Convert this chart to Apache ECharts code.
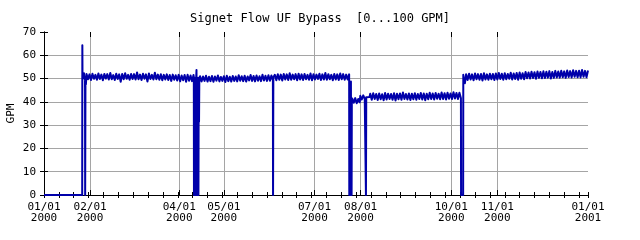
<!DOCTYPE html>
<html>
<head>
<meta charset="utf-8">
<script src="https://cdn.jsdelivr.net/npm/echarts@6/dist/echarts.min.js"></script>
<style>html,body{margin:0;padding:0;background:#fff}#c{width:640px;height:240px}</style>
</head>
<body>
<div id="c"></div>
<script>
// x values are day-of-year 2000 (0 = 01/01/2000, 366 = 01/01/2001)
const labelDays = [0, 31, 91, 121, 182, 213, 274, 305, 366];
const xLabels = ['01/01\n2000', '02/01\n2000', '04/01\n2000', '05/01\n2000', '07/01\n2000', '08/01\n2000', '10/01\n2000', '11/01\n2000', '01/01\n2001'];
const gridDays = [31, 91, 121, 182, 213, 274, 305];

const lead = [[0, 0], [25.7, 0], [25.8, 64.3]];
const bandA1 = {start: 25.9, step: 0.5, values: [51.8, 50.2, 52.3, 49.6]};
const febDrop = [[27.6, 50.5], [27.7, 0], [27.8, 0], [27.9, 50.8], [28.2, 47.6]];
const bandA2 = {start: 28.6, step: 1, values: [
  52.0, 49.7, 51.8, 49.4, 52.1, 49.9, 51.6, 49.5, 52.2, 49.8,
  51.7, 49.3, 52.0, 50.0, 51.9, 49.6, 52.4, 49.7, 51.5, 49.4,
  52.1, 49.8, 51.8, 48.6, 52.0, 49.7, 52.3, 49.9, 51.6, 49.5,
  52.0, 49.8, 51.9, 49.6, 52.6, 49.7, 51.7, 49.4, 52.1, 49.9,
  51.8, 48.7, 52.2, 49.8, 51.6, 49.6, 52.5, 49.7, 51.7, 49.5,
  51.9, 49.3, 51.6, 49.6, 51.8, 49.4, 51.5, 49.0, 51.7, 49.5,
  51.4, 49.2, 51.6, 48.8, 51.3, 49.3, 51.5, 48.6, 51.6, 49.1,
  51.3, 48.9, 51.5]};
const aprBlock = [[100.8, 50.4], [100.9, 0], [101.1, 50.5], [101.3, 0], [101.5, 49.8], [101.7, 0], [101.9, 50.2], [102.1, 0],
  [102.4, 50.4], [102.6, 53.7], [102.7, 0], [102.9, 50.1], [103.1, 0], [103.3, 49.9], [103.5, 0], [103.7, 50.3],
  [103.9, 0], [104.1, 49.8], [104.3, 31.5], [104.5, 50.0]];
const bandB = {start: 105, step: 1, values: [
  51.0, 48.8, 50.9, 49.0, 51.2, 48.7, 50.8, 48.9, 51.1, 48.6,
  50.9, 49.1, 51.3, 48.8, 50.7, 49.0, 51.0, 48.5, 51.2, 48.9,
  50.8, 48.7, 51.1, 49.0, 50.9, 48.8, 51.4, 49.1, 51.0, 48.9,
  51.2, 48.7, 50.9, 49.2, 51.5, 49.0, 51.1, 48.8, 51.3, 49.1,
  51.0, 48.9, 51.6, 49.2, 51.2, 49.0, 51.4, 49.1, 51.3, 49.2]};
const junDrop = [[154.1, 0], [154.3, 50.6]];
const bandC = {start: 155.3, step: 1, values: [
  51.6, 49.3, 51.9, 49.5, 51.7, 49.2, 52.0, 49.6, 51.8, 49.4,
  52.3, 49.5, 51.7, 49.7, 51.9, 49.3, 52.1, 49.6, 51.8, 49.4,
  52.0, 49.7, 51.6, 49.5, 52.2, 49.3, 51.9, 49.6, 51.7, 49.8,
  52.1, 49.4, 51.8, 49.6, 52.4, 49.5, 51.9, 49.7, 51.6, 49.3,
  52.0, 49.6, 51.8, 49.4, 52.2, 49.7, 51.9, 49.5, 51.7, 49.6, 51.8]};
const augBlock = [[205.4, 0], [205.6, 40], [205.75, 0], [205.9, 46.3], [206.05, 0], [206.2, 39.5], [206.35, 0],
  [206.5, 48.7], [206.65, 0], [206.8, 40.1], [206.95, 0], [207.1, 39.3]];
const bandD = {start: 207.4, step: 1, values: [41.4, 39.6, 41.6, 39.4, 41.2, 39.8]};
const bandE = {start: 212.8, step: 1, values: [42.6, 41.0, 42.8, 41.3]};
const augDrop = [[216.4, 42.1], [216.6, 0], [216.8, 42.0], [219.0, 42.1]];
const bandF = {start: 219.5, step: 1, values: [
  43.5, 40.9, 43.7, 41.2, 43.4, 40.8, 43.6, 41.1, 43.3, 40.7,
  43.8, 41.0, 43.5, 41.2, 43.4, 40.9, 43.7, 40.6, 43.5, 41.1,
  43.6, 40.9, 44.0, 41.2, 43.4, 41.0, 43.6, 40.8, 43.5, 41.1,
  43.7, 40.9, 43.4, 41.2, 43.8, 41.0, 43.6, 40.7, 43.5, 41.1,
  43.9, 41.2, 43.6, 41.0, 43.8, 41.3, 43.5, 41.1, 44.0, 41.2,
  43.7, 41.0, 43.9, 41.3, 43.6, 41.2, 44.1, 41.4, 43.8, 41.2,
  43.9, 41.5]};
const octBlock = [[280.6, 0], [281.0, 0], [281.5, 0], [282.0, 0], [282.1, 51.6], [282.6, 49.2], [283.2, 48.0]];
const bandG = {start: 284, step: 1, values: [
  51.9, 49.4, 52.1, 49.6, 51.8, 49.3, 52.2, 49.7, 51.9, 49.5,
  52.0, 49.2, 52.3, 49.6, 51.8, 49.5, 52.1, 49.7, 52.0, 49.4,
  52.2, 49.6, 52.4, 49.8, 52.1, 49.5, 52.3, 49.7, 52.0, 49.9,
  52.5, 49.6, 52.2, 49.8, 52.4, 49.5, 52.6, 49.9, 52.3, 49.7,
  52.8, 50.1, 52.6, 50.0, 52.9, 50.2, 52.7, 49.9, 53.0, 50.3,
  52.8, 50.1, 53.1, 50.2, 52.9, 50.4, 53.2, 50.0, 52.8, 50.3,
  53.3, 50.5, 53.0, 50.4, 53.4, 50.6, 53.1, 50.3, 53.5, 50.7,
  53.2, 50.5, 53.6, 50.8, 53.3, 50.6, 53.4, 50.5, 53.7, 50.8,
  53.3, 50.6, 53.5]};

function band(seg) { return seg.values.map((v, i) => [+(seg.start + i * seg.step).toFixed(2), v]); }
const flow = [].concat(lead, band(bandA1), febDrop, band(bandA2), aprBlock, band(bandB), junDrop,
  band(bandC), augBlock, band(bandD), band(bandE), augDrop, band(bandF), octBlock, band(bandG));

const FONT = 'DejaVu Sans Mono';
const black = {lineStyle: {color: '#000', width: 1}};
const hidden = {show: false};

const chart = echarts.init(document.getElementById('c'), null, {renderer: 'canvas'});
chart.setOption({
  animation: false,
  backgroundColor: '#fff',
  title: {
    text: 'Signet Flow UF Bypass  [0...100 GPM]',
    left: 'center', top: 8,
    textStyle: {fontFamily: FONT, fontSize: 12, fontWeight: 'normal', color: '#000'}
  },
  grid: {left: 44, right: 52, top: 32, bottom: 45, containLabel: false, outerBoundsMode: 'none'},
  xAxis: [
    {type: 'value', min: 0, max: 366, interval: 10, position: 'bottom',
      axisLine: black, axisTick: {inside: true, length: 3, lineStyle: {color: '#000'}},
      axisLabel: hidden, splitLine: hidden},
    {type: 'value', min: 0, max: 366, interval: 10, position: 'top',
      axisLine: black, axisTick: {inside: true, length: 3, lineStyle: {color: '#000'}},
      axisLabel: hidden, splitLine: hidden},
    {type: 'value', min: 0, max: 366, position: 'bottom',
      axisLine: hidden,
      axisTick: {inside: true, length: 5, customValues: gridDays, lineStyle: {color: '#000'}},
      axisLabel: {customValues: labelDays, showMinLabel: true, showMaxLabel: true,
        formatter: v => xLabels[labelDays.indexOf(v)],
        fontFamily: FONT, fontSize: 11, lineHeight: 11, color: '#000', margin: 7},
      splitLine: {show: true, lineStyle: {color: '#a5a5a5', width: 1}}},
    {type: 'value', min: 0, max: 366, position: 'top',
      axisLine: hidden,
      axisTick: {inside: true, length: 5, customValues: gridDays, lineStyle: {color: '#000'}},
      axisLabel: hidden, splitLine: hidden}
  ],
  yAxis: [
    {type: 'value', min: 0, max: 70, interval: 10, position: 'left',
      axisLine: {show: true, lineStyle: {color: '#000', width: 1}},
      axisTick: {show: true, inside: true, length: 4, lineStyle: {color: '#000'}},
      axisLabel: {fontFamily: FONT, fontSize: 11, color: '#000', margin: 8},
      splitLine: {show: true, showMinLine: false, showMaxLine: false, lineStyle: {color: '#a5a5a5', width: 1}},
      name: 'GPM', nameLocation: 'middle', nameGap: 27, nameRotate: 90, nameMoveOverlap: false,
      nameTextStyle: {fontFamily: FONT, fontSize: 11, color: '#000'}},
    {type: 'value', min: 0, max: 70, interval: 10, position: 'right',
      axisLine: {show: true, lineStyle: {color: '#000', width: 1}},
      axisTick: {show: true, inside: true, length: 4, lineStyle: {color: '#000'}},
      axisLabel: hidden, splitLine: hidden}
  ],
  series: [{
    type: 'line', xAxisIndex: 0, yAxisIndex: 0, data: flow,
    showSymbol: false, symbol: 'none', sampling: null,
    lineStyle: {color: '#0000aa', width: 2, join: 'round'},
    z: 3
  }]
});
</script>
</body>
</html>
